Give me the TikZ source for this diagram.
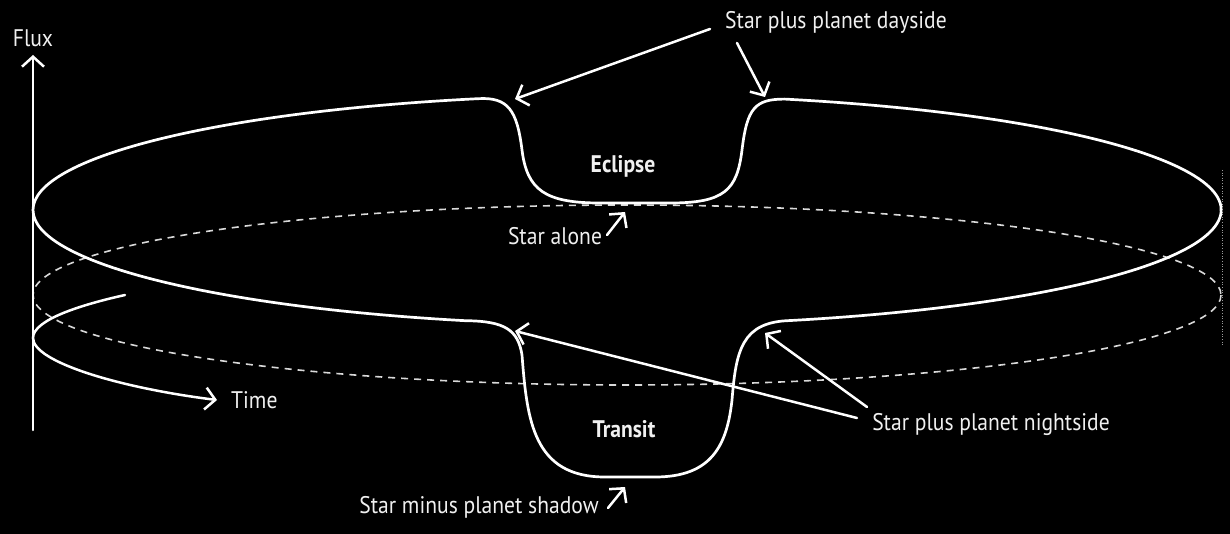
\documentclass[tikz,border=0pt]{standalone}
\usepackage{fontspec}
\newfontfamily\labfont[FakeStretch=0.9]{PT Sans}
\usetikzlibrary{arrows.meta}
\begin{document}
\begin{tikzpicture}[x=1pt,y=-1pt,
  curve/.style={draw=white, line width=2.7pt},
  dashcurve/.style={draw=white!85!black, line width=1.6pt, dash pattern=on 7pt off 6pt},
  pointer/.style={draw=white, line width=2.5pt, line cap=round,
     -{Straight Barb[length=10pt,width=22pt,line width=2.5pt]}},
  lab/.style={text=white!94!black, inner sep=0pt, font=\labfont\fontsize{24}{26}\selectfont},
  blab/.style={lab, font=\labfont\bfseries\fontsize{24}{26}\selectfont}]
\fill[black] (0,0) rectangle (1230,534);
\useasboundingbox (0,0) rectangle (1230,534);

% dashed orbit
\draw[dashcurve] (627,295) ellipse[x radius=594, y radius=90];
% faint dotted line at right
\draw[white!60!black, line width=0.6pt, dotted] (1222,170) -- (1222,345);

% main light curve
\draw[curve] (33,210) arc[start angle=180,end angle=255.5,x radius=594,y radius=115]
  .. controls (508,97) and (517,110) .. (522,150)
  .. controls (527,190) and (545,203) .. (600,203)
  -- (670,203)
  .. controls (725,203) and (737,190) .. (742,150)
  .. controls (747,108) and (755,99) .. (784.8,99.1)
  arc[start angle=285.4,end angle=434.1,x radius=594,y radius=115]
  .. controls (742,322) and (736,350) .. (732,400)
  .. controls (727,445) and (712,477) .. (655,477)
  -- (605,477)
  .. controls (533,477) and (527,420) .. (522,355)
  .. controls (518,330) and (505,321) .. (465.3,320.7)
  arc[start angle=105.8,end angle=180,x radius=594,y radius=115]
  -- cycle;

% flux axis
\coordinate (fb) at (33,430);
\coordinate (ft) at (33,55);
\draw[pointer] (fb) -- (ft);
\node[lab] (flux) at (33,38) {Flux};

% time spiral
\coordinate (ts) at (125,295);
\coordinate (te) at (217,400);
\draw[pointer] (ts) .. controls (80,305) and (33,320) .. (33,338)
  .. controls (33,362) and (120,388) .. (te);
\node[lab, anchor=west] (time) at (231,400) {Time};

% labels
\node[lab] (dayside) at (836,22) {Star plus planet dayside};
\node[blab] (eclipse) at (623,166) {Eclipse};
\node[lab] (alone) at (555,236) {Star alone};
\node[blab] (transit) at (624,429) {Transit};
\node[lab] (shadow) at (479,507) {Star minus planet shadow};
\node[lab] (night) at (991,424) {Star plus planet nightside};

% pointers
\coordinate (d1s) at (710,29);  \coordinate (d1e) at (515,99);
\coordinate (d2s) at (737,43);  \coordinate (d2e) at (765,97);
\coordinate (as) at (607,235);  \coordinate (ae) at (625,212);
\coordinate (ss) at (608,508);  \coordinate (se) at (625,487);
\coordinate (n1s) at (857,418); \coordinate (n1e) at (515,331);
\coordinate (n2s) at (867,407); \coordinate (n2e) at (765,333);
\draw[pointer] (d1s) -- (d1e);
\draw[pointer] (d2s) -- (d2e);
\draw[pointer] (as) -- (ae);
\draw[pointer] (ss) -- (se);
\draw[pointer] (n1s) -- (n1e);
\draw[pointer] (n2s) -- (n2e);
\end{tikzpicture}
\end{document}
